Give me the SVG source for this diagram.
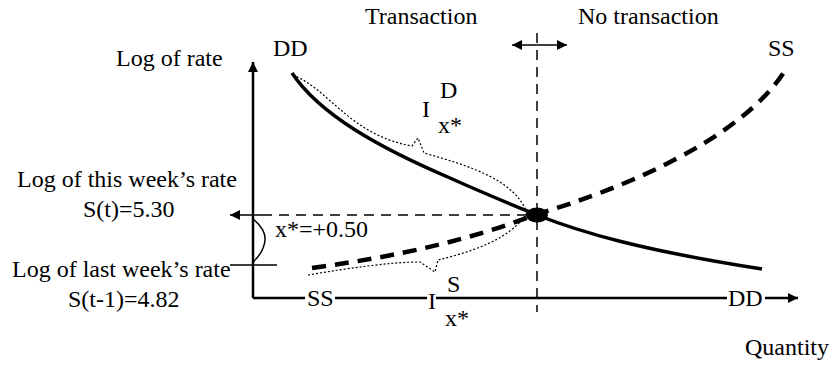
<svg xmlns="http://www.w3.org/2000/svg" width="831" height="365" viewBox="0 0 831 365">
<style>
text{font-size:24px;fill:#000;font-family:"Liberation Serif","Times New Roman",serif}
.ax{stroke:#000;stroke-width:2.5;fill:none}
.thin{stroke:#000;stroke-width:1.5;fill:none}
.dash{stroke:#000;stroke-width:1.5;fill:none;stroke-dasharray:10 7}
.dot{stroke:#000;stroke-width:1.2;fill:none;stroke-dasharray:2 2}
.dd{stroke:#000;stroke-width:3.5;fill:none}
.ss{stroke:#000;stroke-width:4.5;fill:none;stroke-dasharray:14 9}
</style>
<defs>
<marker id="ah" viewBox="0 0 10 10" refX="10" refY="5" markerWidth="12" markerHeight="10" markerUnits="userSpaceOnUse" orient="auto-start-reverse">
<path d="M0,0 L10,5 L0,10 z" fill="#000"/>
</marker>
</defs>
<g id="connectors">
<line class="ax" x1="253" y1="298" x2="253" y2="62" marker-end="url(#ah)"/>
<line class="ax" x1="253" y1="298" x2="305" y2="298"/>
<line class="ax" x1="335" y1="298" x2="427" y2="298"/>
<line class="ax" x1="436" y1="298" x2="727" y2="298"/>
<line class="ax" x1="765" y1="298" x2="798" y2="298" marker-end="url(#ah)"/>
<line class="dash" x1="537" y1="33" x2="537" y2="312"/>
<line class="thin" x1="512" y1="45" x2="567" y2="45" marker-start="url(#ah)" marker-end="url(#ah)"/>
<line class="dash" x1="527" y1="215" x2="266" y2="215"/>
<line class="thin" x1="230" y1="215" x2="266" y2="215" marker-start="url(#ah)"/>
<line class="thin" x1="230" y1="265" x2="277" y2="265"/>
<path class="thin" d="M253,219 Q266,230 265,240 Q264,252 253,262"/>
<path class="dd" d="M292,73 C320,115 380,148 450,178 C490,196 520,208 537,215 C580,232 640,250 762,269"/>
<path class="ss" d="M312,268 C400,256 470,240 537,214 C620,190 740,140 784,72"/>
<path class="dot" d="M293,75 C330,90 350,135 412,146 L418,138 L424,153 C470,166 515,180 527,213"/>
<path class="dot" d="M308,275 C350,268 390,262 420,262 L435,272 L438,260 C470,252 510,240 527,213"/>
<ellipse cx="537" cy="215" rx="11" ry="7.5" fill="#000"/>
</g>
<g id="labels">
<text x="365" y="24">Transaction</text>
<text x="578" y="24">No transaction</text>
<text x="273" y="56">DD</text>
<text x="768" y="56">SS</text>
<text x="116" y="66">Log of rate</text>
<text x="17" y="187">Log of this week’s rate</text>
<text x="83" y="217">S(t)=5.30</text>
<text x="12" y="277">Log of last week’s rate</text>
<text x="68" y="307">S(t-1)=4.82</text>
<text x="275" y="237">x*=+0.50</text>
<text x="440" y="98">D</text>
<text x="422" y="117">I</text>
<text x="438" y="133">x*</text>
<text x="307" y="306">SS</text>
<text x="447" y="292">S</text>
<text x="428" y="309">I</text>
<text x="445" y="326">x*</text>
<text x="728" y="306">DD</text>
<text x="745" y="355">Quantity</text>
</g>
</svg>
